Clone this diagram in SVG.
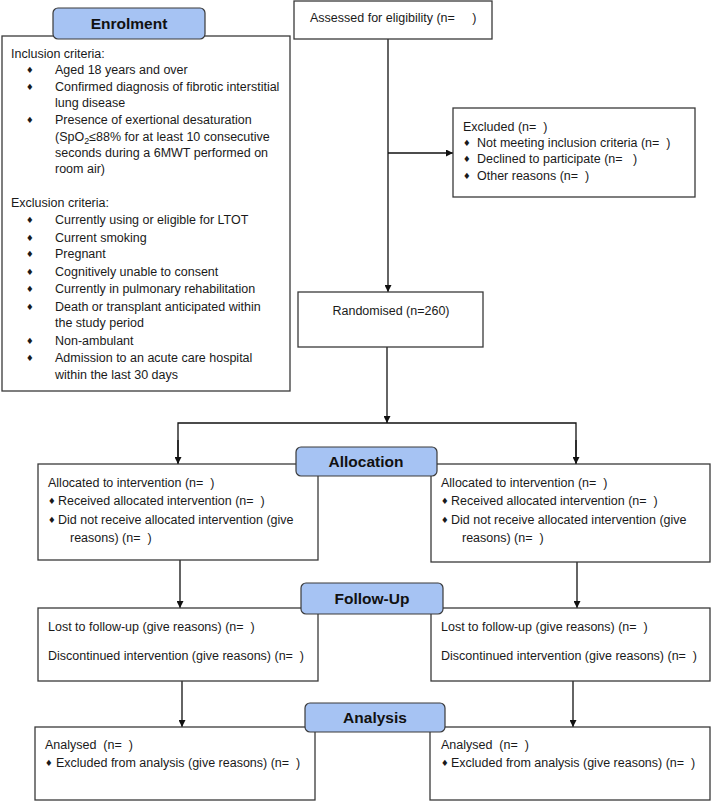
<svg xmlns="http://www.w3.org/2000/svg" width="711" height="801" viewBox="0 0 711 801">
<style>
.box{fill:#fff;stroke:#3a3a3a;stroke-width:1.3}
.hdr{fill:#a6c3f3;stroke:#3a3a3a;stroke-width:1.2}
.ht{font-family:"Liberation Sans",Arial,sans-serif;font-weight:bold;font-size:15.5px;fill:#111;text-anchor:middle}
.t{font-family:"Liberation Sans",Arial,sans-serif;font-size:12.5px;fill:#1a1a1a}
.s{font-family:"Liberation Sans",Arial,sans-serif;font-size:12.5px;fill:#1a1a1a}
.b{font-family:"DejaVu Sans",sans-serif;font-size:8.5px;fill:#1a1a1a}
.c{fill:none;stroke:#111;stroke-width:1.3}
</style>
<defs>
<marker id="ah" viewBox="0 0 10 10" refX="10" refY="5" markerWidth="7" markerHeight="7" markerUnits="userSpaceOnUse" orient="auto">
<path d="M0,0 L10,5 L0,10 z" fill="#111"/>
</marker>
</defs>

<g id="connectors">
<line class="c" x1="388" y1="39" x2="388" y2="292" marker-end="url(#ah)"/>
<line class="c" x1="388" y1="153" x2="453" y2="153" marker-end="url(#ah)"/>
<line class="c" x1="387" y1="347" x2="387" y2="423" marker-end="url(#ah)"/>
<polyline class="c" points="178,464 178,423 576,423 576,464"/>
<line class="c" x1="178" y1="440" x2="178" y2="464" marker-end="url(#ah)"/>
<line class="c" x1="576" y1="440" x2="576" y2="464" marker-end="url(#ah)"/>
<line class="c" x1="180" y1="560" x2="180" y2="608" marker-end="url(#ah)"/>
<line class="c" x1="577" y1="562" x2="577" y2="608" marker-end="url(#ah)"/>
<line class="c" x1="182" y1="681" x2="182" y2="727" marker-end="url(#ah)"/>
<line class="c" x1="573" y1="681" x2="573" y2="727" marker-end="url(#ah)"/>
</g>

<g id="enrolment">
<rect class="box" x="2" y="36" width="288" height="355"/>
<text class="t" x="11" y="58">Inclusion criteria:</text>
<text class="b" x="26" y="73">♦</text><text class="t" x="55" y="74">Aged 18 years and over</text>
<text class="b" x="26" y="90">♦</text><text class="t" x="55" y="91">Confirmed diagnosis of fibrotic interstitial</text>
<text class="t" x="55" y="107">lung disease</text>
<text class="b" x="26" y="123">♦</text><text class="t" x="55" y="124">Presence of exertional desaturation</text>
<text class="t" x="55" y="141">(SpO<tspan font-size="9" dy="3">2</tspan><tspan dy="-3">≤88% for at least 10 consecutive</tspan></text>
<text class="t" x="55" y="157">seconds during a 6MWT performed on</text>
<text class="t" x="55" y="173">room air)</text>
<text class="t" x="11" y="207">Exclusion criteria:</text>
<text class="b" x="26" y="223">♦</text><text class="t" x="55" y="224">Currently using or eligible for LTOT</text>
<text class="b" x="26" y="241">♦</text><text class="t" x="55" y="242">Current smoking</text>
<text class="b" x="26" y="257">♦</text><text class="t" x="55" y="258">Pregnant</text>
<text class="b" x="26" y="275">♦</text><text class="t" x="55" y="276">Cognitively unable to consent</text>
<text class="b" x="26" y="292">♦</text><text class="t" x="55" y="293">Currently in pulmonary rehabilitation</text>
<text class="b" x="26" y="310">♦</text><text class="t" x="55" y="311">Death or transplant anticipated within</text>
<text class="t" x="55" y="327">the study period</text>
<text class="b" x="26" y="344">♦</text><text class="t" x="55" y="345">Non-ambulant</text>
<text class="b" x="26" y="361">♦</text><text class="t" x="55" y="362">Admission to an acute care hospital</text>
<text class="t" x="55" y="379">within the last 30 days</text>
</g>
<g id="hdr-enrolment">
<rect class="hdr" x="53" y="8" width="152" height="31" rx="5"/>
<text class="ht" x="129" y="29">Enrolment</text>
</g>

<g id="assessed">
<rect class="box" x="294" y="1" width="198" height="38"/>
<text class="t" x="310" y="22" xml:space="preserve">Assessed for eligibility (n=     )</text>
</g>

<g id="excluded">
<rect class="box" x="453" y="108" width="242" height="89"/>
<text class="s" x="463" y="131" xml:space="preserve">Excluded (n=  )</text>
<text class="b" x="463" y="146">♦</text><text class="s" x="477" y="147" xml:space="preserve">Not meeting inclusion criteria (n=  )</text>
<text class="b" x="463" y="162">♦</text><text class="s" x="477" y="163" xml:space="preserve">Declined to participate (n=   )</text>
<text class="b" x="463" y="179">♦</text><text class="s" x="477" y="180" xml:space="preserve">Other reasons (n=  )</text>
</g>

<g id="randomised">
<rect class="box" x="298" y="292" width="185" height="55"/>
<text class="s" x="391" y="315" text-anchor="middle">Randomised (n=260)</text>
</g>

<g id="alloc-left">
<rect class="box" x="38" y="464" width="280" height="96"/>
<text class="s" x="48" y="487" xml:space="preserve">Allocated to intervention (n=  )</text>
<text class="b" x="48" y="504">♦</text><text class="s" x="58" y="505" xml:space="preserve">Received allocated intervention (n=  )</text>
<text class="b" x="48" y="523">♦</text><text class="s" x="58" y="524">Did not receive allocated intervention (give</text>
<text class="s" x="70" y="542" xml:space="preserve">reasons) (n=  )</text>
</g>
<g id="alloc-right">
<rect class="box" x="431" y="464" width="279" height="98"/>
<text class="s" x="441" y="487" xml:space="preserve">Allocated to intervention (n=  )</text>
<text class="b" x="441" y="504">♦</text><text class="s" x="451" y="505" xml:space="preserve">Received allocated intervention (n=  )</text>
<text class="b" x="441" y="523">♦</text><text class="s" x="451" y="524">Did not receive allocated intervention (give</text>
<text class="s" x="462" y="542" xml:space="preserve">reasons) (n=  )</text>
</g>
<g id="hdr-allocation">
<rect class="hdr" x="296" y="447" width="141" height="29" rx="5"/>
<text class="ht" x="366" y="467">Allocation</text>
</g>

<g id="follow-left">
<rect class="box" x="38" y="608" width="280" height="73"/>
<text class="s" x="48" y="631" xml:space="preserve">Lost to follow-up (give reasons) (n=  )</text>
<text class="s" x="48" y="660" xml:space="preserve">Discontinued intervention (give reasons) (n=  )</text>
</g>
<g id="follow-right">
<rect class="box" x="431" y="608" width="279" height="73"/>
<text class="s" x="441" y="631" xml:space="preserve">Lost to follow-up (give reasons) (n=  )</text>
<text class="s" x="441" y="660" xml:space="preserve">Discontinued intervention (give reasons) (n=  )</text>
</g>
<g id="hdr-followup">
<rect class="hdr" x="301" y="583" width="142" height="31" rx="5"/>
<text class="ht" x="372" y="604">Follow-Up</text>
</g>

<g id="analysis-left">
<rect class="box" x="35" y="727" width="280" height="73"/>
<text class="s" x="45" y="749" xml:space="preserve">Analysed  (n=  )</text>
<text class="b" x="45" y="766">♦</text><text class="s" x="56" y="767" xml:space="preserve">Excluded from analysis (give reasons) (n=  )</text>
</g>
<g id="analysis-right">
<rect class="box" x="430" y="727" width="280" height="73"/>
<text class="s" x="441" y="749" xml:space="preserve">Analysed  (n=  )</text>
<text class="b" x="441" y="766">♦</text><text class="s" x="451" y="767" xml:space="preserve">Excluded from analysis (give reasons) (n=  )</text>
</g>
<g id="hdr-analysis">
<rect class="hdr" x="305" y="703" width="140" height="29" rx="5"/>
<text class="ht" x="375" y="723">Analysis</text>
</g>
</svg>
